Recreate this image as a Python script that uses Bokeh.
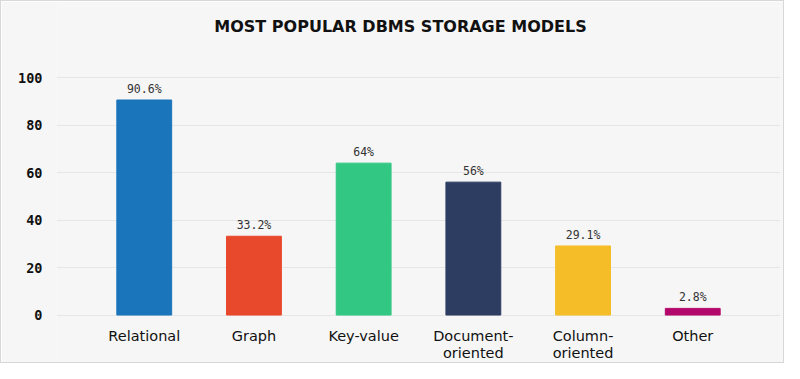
from bokeh.plotting import figure
from bokeh.models import ColumnDataSource, FactorRange, Range1d, LabelSet, Label, FixedTicker
from bokeh.core.properties import value
from bokeh.embed import file_html
from bokeh.resources import INLINE

title_text = "MOST POPULAR DBMS STORAGE MODELS"
categories = ["Relational", "Graph", "Key-value", "Document-oriented", "Column-oriented", "Other"]
label_line1 = ["Relational", "Graph", "Key-value", "Document-", "Column-", "Other"]
label_line2 = ["", "", "", "oriented", "oriented", ""]
values = [90.6, 33.2, 64, 56, 29.1, 2.8]
value_text = ["90.6%", "33.2%", "64%", "56%", "29.1%", "2.8%"]
colors = ["#1a75bb", "#e8492c", "#33c784", "#2d3d62", "#f5bd28", "#b3086b"]
y_ticks = [0, 20, 40, 60, 80, 100]

src = ColumnDataSource(dict(cat=categories, val=values, txt=value_text, col=colors,
                            l1=label_line1, l2=label_line2, zero=[0] * len(categories)))

p = figure(width=784, height=363, output_backend="svg", toolbar_location=None,
           x_range=FactorRange(factors=categories, range_padding=0.3, range_padding_units="absolute"),
           y_range=Range1d(-20, 130),
           min_border_left=55, min_border_right=5, min_border_top=5, min_border_bottom=2)

p.vbar(x="cat", top="val", width=0.5, color="col", source=src)

labels = LabelSet(x="cat", y="val", text="txt", source=src, text_align="center",
                  text_baseline="bottom", y_offset=4, text_font=value("DejaVu Sans Mono"),
                  text_font_size="11.5px", text_color="#333333")
p.add_layout(labels)

for field, off in (("l1", -13), ("l2", -30)):
    p.add_layout(LabelSet(x="cat", y="zero", text=field, source=src, text_align="center",
                          text_baseline="top", y_offset=off, text_font=value("DejaVu Sans"),
                          text_font_size="14.5px", text_color="#111111"))

title = Label(x=344, y=121.5, x_units="screen", y_units="data", text=title_text,
              text_align="center", text_baseline="middle", text_font="DejaVu Sans",
              text_font_style="bold", text_font_size="16px", text_color="#111111")
p.add_layout(title)

p.background_fill_color = "#f6f6f6"
p.border_fill_color = "#f6f6f6"
p.outline_line_color = None

p.xgrid.grid_line_color = None
p.ygrid.grid_line_color = "#e6e6e6"
p.ygrid.ticker = FixedTicker(ticks=y_ticks)

p.yaxis.ticker = FixedTicker(ticks=y_ticks)
p.yaxis.axis_line_color = None
p.yaxis.major_tick_line_color = None
p.yaxis.minor_tick_line_color = None
p.yaxis.major_tick_out = 0
p.yaxis.major_tick_in = 0
p.yaxis.major_label_text_font = "DejaVu Sans Mono"
p.yaxis.major_label_text_font_style = "bold"
p.yaxis.major_label_text_font_size = "13.5px"
p.yaxis.major_label_text_color = "#111111"
p.yaxis.major_label_standoff = 14

p.xaxis.visible = False

p.styles = {"border": "1px solid #d8d8d8"}

open("out.html", "w").write(file_html(p, INLINE))
